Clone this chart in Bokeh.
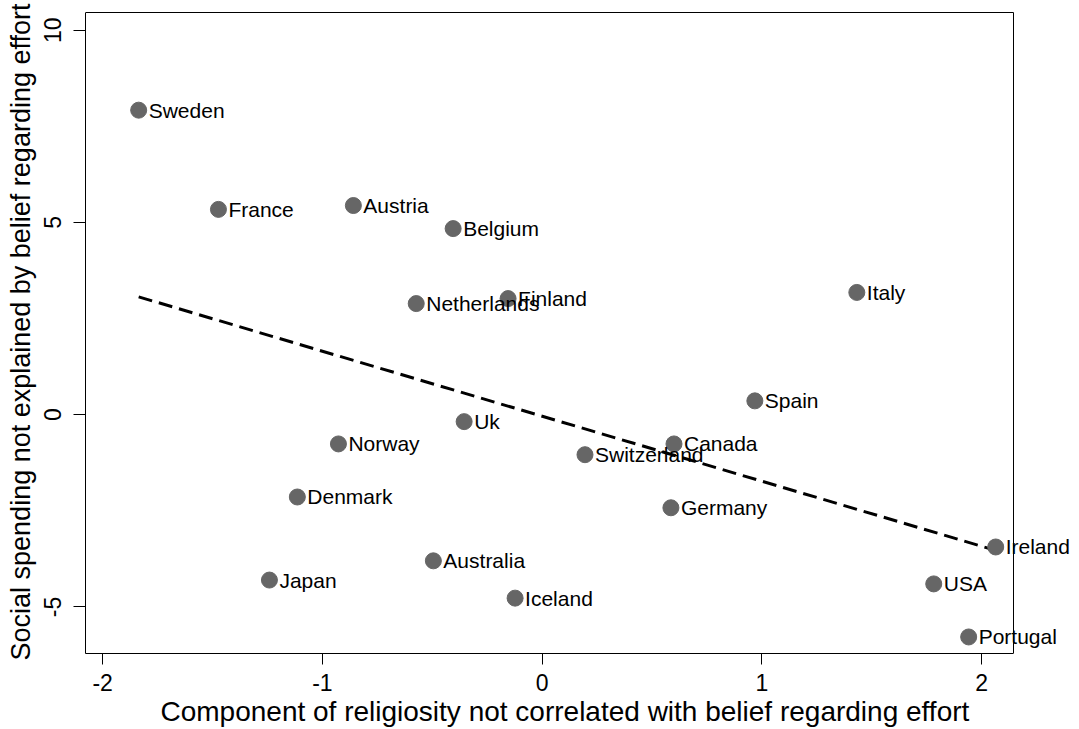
import numpy as np
from bokeh.plotting import figure
from bokeh.models import ColumnDataSource, FixedTicker, Range1d, LabelSet, Title
from bokeh.core.properties import value
from bokeh.embed import file_html
from bokeh.resources import INLINE

countries = ["Sweden", "France", "Austria", "Belgium", "Netherlands", "Finland",
             "Italy", "Spain", "Uk", "Norway", "Canada", "Switzerland", "Denmark",
             "Germany", "Australia", "Japan", "Iceland", "Ireland", "USA", "Portugal"]
religiosity = [-1.836, -1.473, -0.859, -0.405, -0.573, -0.155,
               1.432, 0.968, -0.355, -0.927, 0.600, 0.195, -1.114,
               0.586, -0.495, -1.241, -0.123, 2.064, 1.782, 1.941]
spending = [7.92, 5.34, 5.44, 4.84, 2.89, 3.02,
            3.18, 0.36, -0.18, -0.76, -0.76, -1.04, -2.14,
            -2.42, -3.80, -4.30, -4.77, -3.44, -4.40, -5.78]
x_ticks = [-2, -1, 0, 1, 2]
x_tick_labels = ["-2", "-1", "0", "1", "2"]
y_ticks = [-5, 0, 5, 10]
y_tick_labels = ["-5", "0", "5", "10"]

FONT = "Liberation Sans"

# plot box (axis extents) and canvas geometry
XMIN, XMAX = -2.078, 2.145
YMIN, YMAX = -6.21, 10.46
W, H = 1079, 729
LEFT, TOP, BOTTOM = 85, 10, 76
BOX_W = 928          # pixel width of the drawn box
FRAME_RIGHT_PAD = 4  # frame extends beyond the box so labels are not clipped
frame_w = W - LEFT - FRAME_RIGHT_PAD
x_end = XMIN + (XMAX - XMIN) * frame_w / BOX_W
box_h = H - TOP - BOTTOM - 2
y_end = YMAX + (YMAX - YMIN) * 2 / box_h

p = figure(width=W, height=H, output_backend="svg", toolbar_location=None,
           x_range=Range1d(XMIN, x_end), y_range=Range1d(YMIN, y_end),
           min_border_left=LEFT, min_border_right=FRAME_RIGHT_PAD,
           min_border_top=TOP, min_border_bottom=BOTTOM)
p.grid.visible = False
p.outline_line_color = None
p.background_fill_color = "white"
p.border_fill_color = "white"

# top and right sides of the box
p.segment(x0=[XMIN, XMAX], y0=[YMAX, YMIN], x1=[XMAX, XMAX], y1=[YMAX, YMAX],
          line_color="black", line_width=1)

src = ColumnDataSource(dict(x=religiosity, y=spending, name=countries))

# fitted line (least squares on the data)
xa = np.array(religiosity)
ya = np.array(spending)
slope, intercept = np.polyfit(xa, ya, 1)
fx = [xa.min(), xa.max()]
fy = [slope * v + intercept for v in fx]
p.line(fx, fy, line_color="black", line_width=3, line_dash="14 7")

p.scatter("x", "y", source=src, size=16, fill_color="#666666", line_color="#666666")
labels = LabelSet(x="x", y="y", text="name", source=src, x_offset=10,
                  text_baseline="middle", text_align="left",
                  text_font=value(FONT), text_font_size="21px", text_color="black")
p.add_layout(labels)

for ax in (p.xaxis[0], p.yaxis[0]):
    ax.minor_tick_line_color = None
    ax.major_tick_in = 0
    ax.major_tick_line_color = "black"
    ax.axis_line_color = "black"
    ax.major_label_text_font = FONT
    ax.major_label_text_font_size = "23px"
    ax.major_label_text_color = "black"
    ax.axis_label_text_font = FONT
    ax.axis_label_text_font_style = "normal"
    ax.axis_label_text_color = "black"

p.xaxis.bounds = (XMIN, XMAX)
p.yaxis.bounds = (YMIN, YMAX)
p.xaxis.major_tick_out = 11
p.yaxis.major_tick_out = 12
p.xaxis.ticker = FixedTicker(ticks=x_ticks)
p.yaxis.ticker = FixedTicker(ticks=y_ticks)
p.xaxis.major_label_overrides = dict(zip(x_ticks, x_tick_labels))
p.yaxis.major_label_overrides = dict(zip(y_ticks, y_tick_labels))
p.yaxis.major_label_orientation = "vertical"
p.xaxis.major_label_standoff = 9
p.yaxis.major_label_standoff = 12

p.yaxis.axis_label = "Social spending not explained by belief regarding effort"
p.yaxis.axis_label_text_font_size = "27px"
p.yaxis.axis_label_standoff = 6

xtitle = Title(text="Component of religiosity not correlated with belief regarding effort",
               align="left", offset=75, text_font=FONT, text_font_size="28px",
               text_font_style="normal", text_color="black", standoff=0)
p.add_layout(xtitle, "below")

open("out.html", "w").write(file_html(p, INLINE))
